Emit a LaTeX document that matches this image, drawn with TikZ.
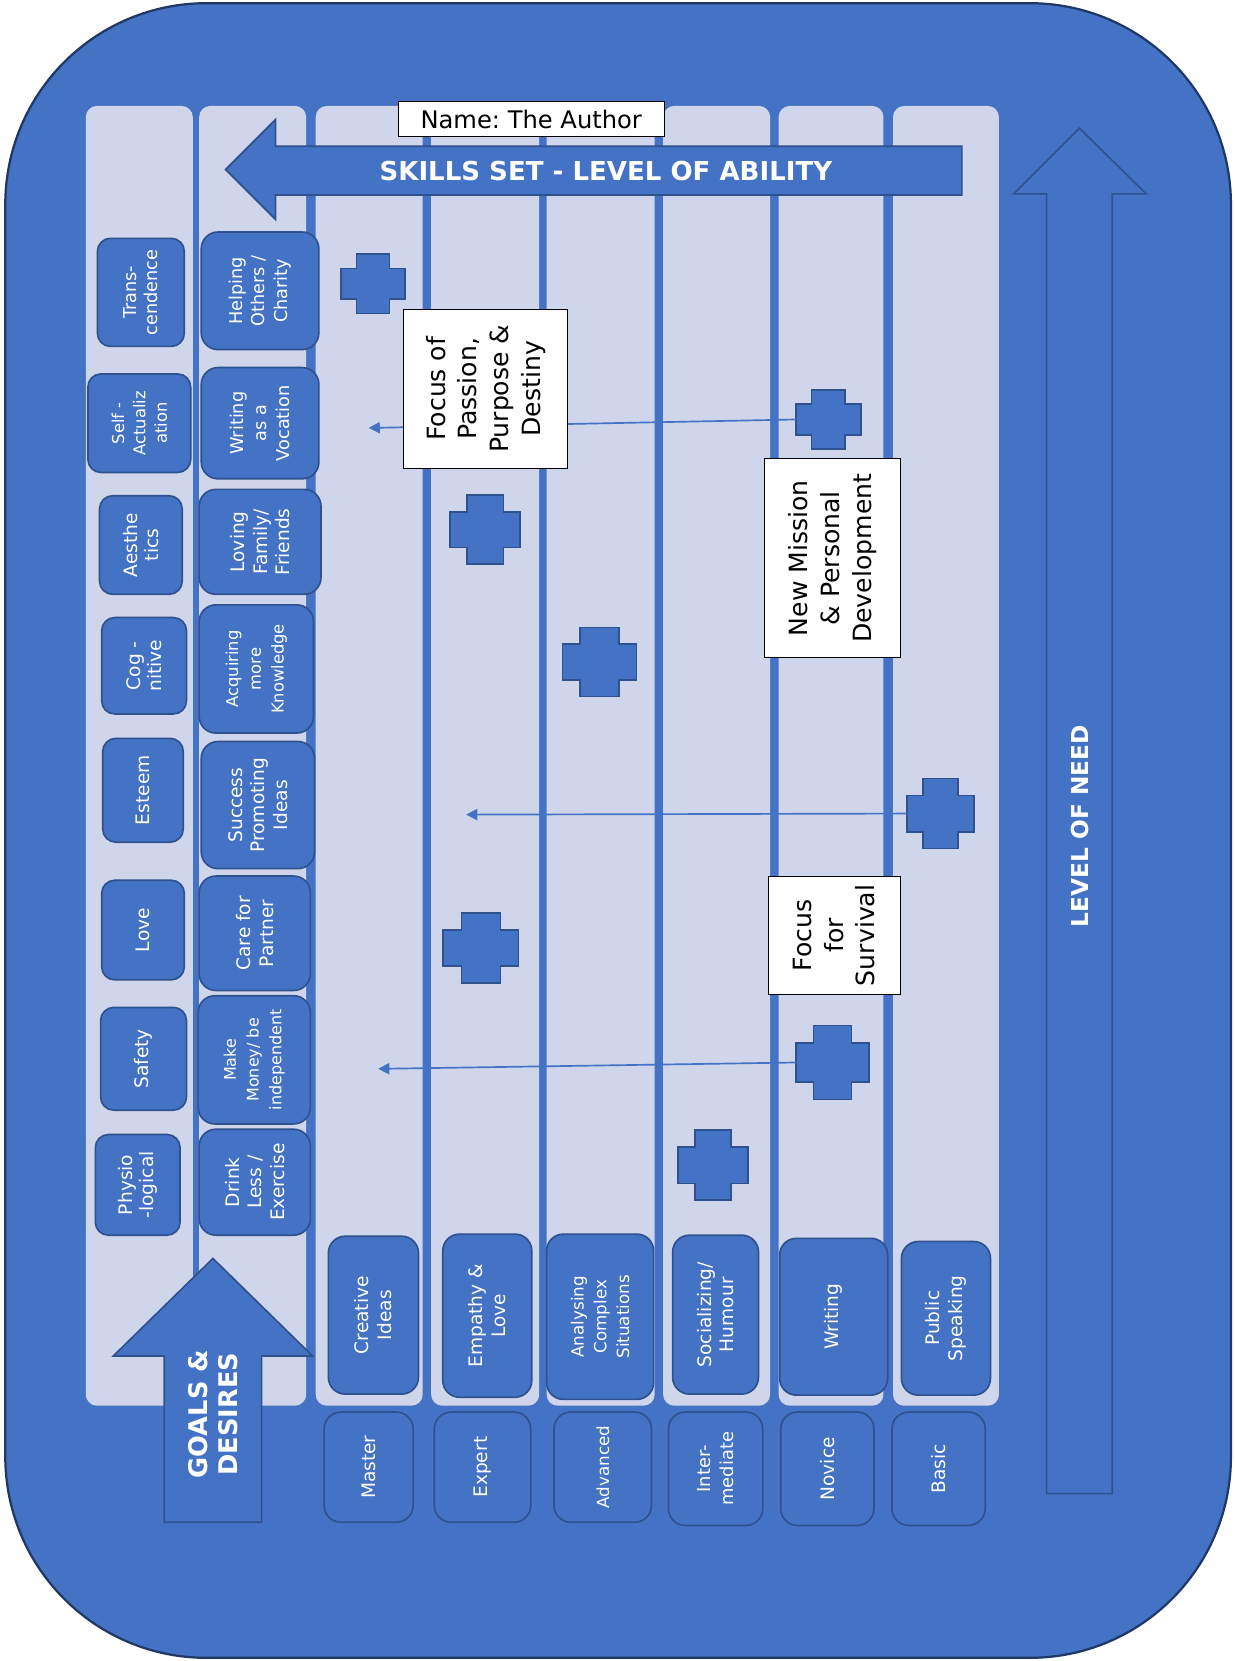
\documentclass[tikz,border=0pt]{standalone}
\usepackage{fontspec}
\setmainfont{DejaVu Sans}
\usetikzlibrary{arrows.meta}
\definecolor{bgblue}{RGB}{68,114,196}
\definecolor{panelblue}{RGB}{207,213,234}
\definecolor{edgeblue}{RGB}{47,82,143}
\definecolor{frameblue}{RGB}{31,56,100}
\newcommand{\pxl}{0.02cm}
\tikzset{
  outerframe/.style={fill=bgblue, draw=frameblue, line width=1.2pt},
  panel/.style={fill=panelblue, rounded corners=6pt},
  tile/.style={
    rotate=90,
    draw=edgeblue,
    fill=bgblue,
    line width=0.9pt,
    text=white,
    align=center,
    inner sep=1pt
  },
  need/.style={tile, rounded corners=7pt},
  goal/.style={tile, rounded corners=9pt},
  skill/.style={tile, rounded corners=9pt},
  level/.style={tile, rounded corners=9pt},
  plusline/.style={draw=edgeblue, fill=bgblue, line width=0.9pt},
  plusspot/.style={inner sep=0pt, outer sep=0pt},
  note/.style={rotate=90, draw=black, fill=white, line width=0.5pt, align=center,
    font=\fontsize{13.5}{17}\selectfont},
  namebox/.style={draw=black, fill=white, line width=0.5pt, font=\frenchspacing\fontsize{13}{15}\selectfont},
  bigarrow/.style={fill=bgblue, draw=edgeblue, line width=0.9pt},
  bigtext/.style={text=white, align=center, font=\bfseries\fontsize{14}{16.5}\selectfont},
  link/.style={draw=bgblue, line width=0.9pt, -{Triangle[length=6pt,width=6pt]}}
}
% plus marks: name, x, y, width, height
\newcommand{\plusmark}[5]{
  \node[plusspot, minimum width=#4*\pxl, minimum height=#5*\pxl] (#1) at (#2,#3) {};
  \draw[plusline] ({#2-0.26*#4},{#3-#5/2}) -- ({#2+0.26*#4},{#3-#5/2})
    -- ({#2+0.26*#4},{#3-0.26*#5}) -- ({#2+#4/2},{#3-0.26*#5})
    -- ({#2+#4/2},{#3+0.26*#5}) -- ({#2+0.26*#4},{#3+0.26*#5})
    -- ({#2+0.26*#4},{#3+#5/2}) -- ({#2-0.26*#4},{#3+#5/2})
    -- ({#2-0.26*#4},{#3+0.26*#5}) -- ({#2-#4/2},{#3+0.26*#5})
    -- ({#2-#4/2},{#3-0.26*#5}) -- ({#2-0.26*#4},{#3-0.26*#5}) -- cycle;
}

\begin{document}
\begin{tikzpicture}[x=0.02cm, y=-0.02cm]
  \useasboundingbox (0,0) rectangle (1165,1568);
  \draw[outerframe, rounded corners=3.8cm] (5,3) rectangle (1162,1565);

  % columns
  \foreach \x/\w in {81/101, 188/101, 298/101, 407/102, 516/102, 626/101, 735/99, 843/100} {
    \fill[panel] (\x,100) rectangle ({\x+\w},1327);
  }

  % level of need
  \draw[bigarrow] (988,1410) -- (988,183) -- (957,183) -- (1019,121) -- (1082,183)
    -- (1050,183) -- (1050,1410) -- cycle;
  \node[bigtext, rotate=90, font=\bfseries\fontsize{12.5}{15}\selectfont] (need) at (1020,780) {LEVEL OF NEED};

  % skills set
  \draw[bigarrow] (908,138) -- (260,138) -- (260,113) -- (213,160) -- (260,207)
    -- (260,184) -- (908,184) -- cycle;
  \node[bigtext] (skills) at (572,161) {SKILLS SET - LEVEL OF ABILITY};
  \node[namebox, minimum width=251*\pxl, minimum height=33*\pxl] (author) at (501.5,112.5) {Name: The Author};

  % needs
  \foreach \nm/\cx/\cy/\w/\h/\fs/\txt in {
    n8/133/276/82/102/9.5/{Trans-\\cendence},
    n7/131.5/399.5/97/93/8.8/{Self -\\Actualiz\\ation},
    n6/133/514.5/78/93/10/{Aesthe\\tics},
    n5/136/628.5/80/91/10/{Cog -\\nitive},
    n4/135/746/76/98/10/{Esteem},
    n3/135/878/78/94/10/{Love},
    n2/135.5/999.5/81/97/10/{Safety},
    n1/130/1118.5/80/95/10/{Physio\\-logical}} {
    \node[need, minimum width=\h*\pxl, minimum height=\w*\pxl,
      font=\fontsize{\fs}{11.5}\selectfont] (\nm) at (\cx,\cy) {\txt};
  }

  % goals
  \foreach \nm/\cx/\cy/\w/\h/\fs/\txt in {
    g8/245.5/274.5/111/111/9.5/{Helping\\Others /\\Charity},
    g7/245.5/399.5/111/105/9.5/{Writing\\as a\\Vocation},
    g6/245.5/511.5/115/99/10/{Loving\\Family/\\Friends},
    g5/242/631.5/108/121/8.8/{Acquiring\\more\\Knowledge},
    g4/243.5/760/107/120/10/{Success\\Promoting\\Ideas},
    g3/240.5/881/105/108/10/{Care for\\Partner},
    g2/240/1000.5/106/121/8.6/{Make\\Money/ be\\independent},
    g1/240.5/1116/105/100/10/{Drink\\Less /\\Exercise}} {
    \node[goal, minimum width=\h*\pxl, minimum height=\w*\pxl,
      font=\fontsize{\fs}{12.2}\selectfont] (\nm) at (\cx,\cy) {\txt};
  }

  % skills
  \foreach \nm/\cx/\cy/\w/\h/\fs/\txt in {
    s1/352.5/1241.5/85/149/10/{Creative\\Ideas},
    s2/460/1242/84/154/10/{Empathy \&\\Love},
    s3/566.5/1243/101/156/9/{Analysing\\Complex\\Situations},
    s4/675.5/1241/81/150/10/{Socializing/\\Humour},
    s5/787/1243/102/148/10/{Writing},
    s6/893/1244.5/84/145/10/{Public\\Speaking}} {
    \node[skill, minimum width=\h*\pxl, minimum height=\w*\pxl,
      font=\fontsize{\fs}{12.2}\selectfont] (\nm) at (\cx,\cy) {\txt};
  }

  % levels
  \foreach \nm/\cx/\cy/\w/\h/\fs/\txt in {
    l1/348/1385/84/104/10/{Master},
    l2/455.5/1385/91/104/10/{Expert},
    l3/569/1385/92/104/9/{Advanced},
    l4/675.5/1386.5/89/107/9.6/{Inter-\\mediate},
    l5/781/1386.5/88/107/10/{Novice},
    l6/886/1386.5/88/107/10/{Basic}} {
    \node[level, minimum width=\h*\pxl, minimum height=\w*\pxl,
      font=\fontsize{\fs}{12.2}\selectfont] (\nm) at (\cx,\cy) {\txt};
  }

  % goals and desires
  \draw[bigarrow] (155,1437) -- (155,1280) -- (107,1280) -- (201,1188) -- (295,1280)
    -- (247,1280) -- (247,1437) -- cycle;
  \node[bigtext, rotate=90, font=\bfseries\fontsize{13.8}{16.4}\selectfont] (goals) at (201,1335) {GOALS \&\\DESIRES};

  % plus marks
  \plusmark{p1}{352}{268}{60}{56}
  \plusmark{p2}{458}{500}{66}{65}
  \plusmark{p3}{566}{625}{70}{65}
  \plusmark{p4}{888}{768}{63}{66}
  \plusmark{p5}{454}{895}{71}{66}
  \plusmark{p6}{786}{1003}{69}{70}
  \plusmark{p7}{673}{1100}{66}{66}
  \plusmark{p8}{782}{396}{61}{56}

  % links
  \coordinate (e8) at (348,404);
  \coordinate (e4) at (440,769);
  \coordinate (e6) at (357,1009);
  \draw[link] (p8.west) -- (e8);
  \draw[link] (p4.west) -- (e4);
  \draw[link] (p6.west) -- (e6);

  % notes
  \node[note, minimum width=150*\pxl, minimum height=155*\pxl] (passion) at (458.5,367)
    {Focus of\\Passion,\\Purpose \&\\Destiny};
  \node[note, minimum width=188*\pxl, minimum height=128*\pxl] (mission) at (786,527)
    {New Mission\\\& Personal\\Development};
  \node[note, minimum width=112*\pxl, minimum height=125*\pxl] (survival) at (787.5,883)
    {Focus\\for\\Survival};
\end{tikzpicture}
\end{document}
